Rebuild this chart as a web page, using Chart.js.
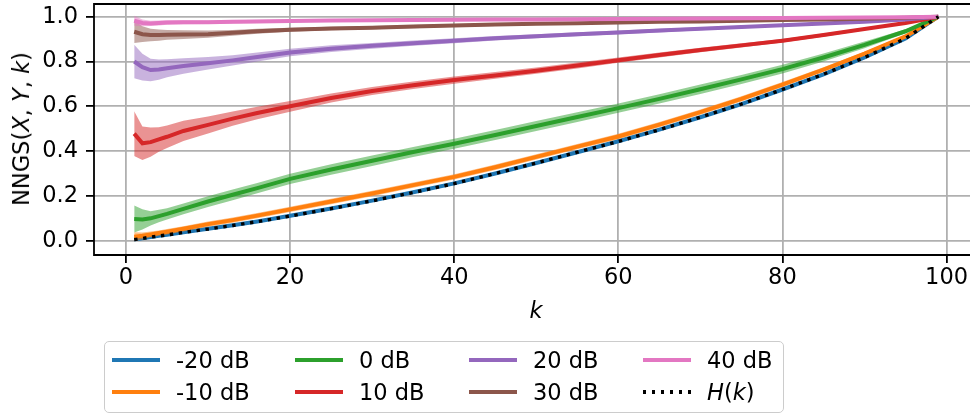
<!DOCTYPE html>
<html>
<head>
<meta charset="utf-8">
<script src="https://cdn.jsdelivr.net/npm/chart.js@4.4.1/dist/chart.umd.min.js"></script>
<style>
html,body{margin:0;padding:0;background:#fff;}
#wrap{position:relative;width:970px;height:415px;overflow:hidden;font-family:"DejaVu Sans",sans-serif;color:#000;}
#c{position:absolute;left:0;top:0;}
#xlab{position:absolute;left:536px;top:310px;transform:translate(-50%,-50%);font-size:22.5px;font-style:italic;white-space:nowrap;}
#ylab{position:absolute;left:21px;top:129px;transform:translate(-50%,-50%) rotate(-90deg);font-size:22.5px;white-space:nowrap;}
#legend{position:absolute;left:104px;top:341px;width:678px;height:70px;border:1.8px solid #cccccc;border-radius:5px;background:rgba(255,255,255,0.8);}
.item{position:absolute;height:30px;}
.handle{position:absolute;left:0;width:48px;top:13px;height:4px;}
.ltxt{position:absolute;left:64px;top:0;line-height:30px;font-size:22.5px;white-space:nowrap;}
</style>
</head>
<body>
<div id="wrap">
  <canvas id="c" width="970" height="415"></canvas>
  <div id="xlab">k</div>
  <div id="ylab">NNGS(<i>X</i>, <i>Y</i>, <i>k</i>)</div>
  <div id="legend"></div>
</div>
<script>
// ---- data ----
const K = [1,2,3,4,5,7,10,13,16,20,25,30,35,40,45,50,55,60,65,70,75,80,85,90,95,99];

const SNR_LABELS = ['-20 dB','-10 dB','0 dB','10 dB','20 dB','30 dB','40 dB'];
const SNR_COLORS = ['#1f77b4','#ff7f0e','#2ca02c','#d62728','#9467bd','#8c564b','#e377c2'];

const MEAN_M20 = [0.006,0.011,0.016,0.022,0.027,0.038,0.053,0.069,0.086,0.111,0.144,0.179,0.216,0.256,0.300,0.347,0.395,0.444,0.496,0.551,0.610,0.675,0.743,0.818,0.903,1.0];
const MEAN_M10 = [0.018,0.022,0.028,0.034,0.040,0.053,0.074,0.092,0.112,0.140,0.175,0.211,0.248,0.285,0.328,0.374,0.420,0.465,0.518,0.574,0.633,0.697,0.764,0.835,0.912,1.0];
const MEAN_0   = [0.097,0.095,0.100,0.110,0.120,0.142,0.175,0.205,0.235,0.276,0.318,0.357,0.396,0.433,0.472,0.512,0.552,0.592,0.633,0.676,0.720,0.766,0.818,0.874,0.935,1.0];
const MEAN_10  = [0.478,0.435,0.440,0.452,0.464,0.490,0.517,0.545,0.570,0.600,0.637,0.668,0.694,0.717,0.738,0.759,0.782,0.806,0.829,0.851,0.872,0.893,0.918,0.945,0.972,1.0];
const MEAN_20  = [0.800,0.775,0.762,0.764,0.770,0.780,0.792,0.805,0.820,0.840,0.857,0.870,0.882,0.893,0.904,0.913,0.922,0.930,0.938,0.946,0.954,0.962,0.970,0.978,0.988,1.0];
const MEAN_30  = [0.933,0.922,0.918,0.918,0.919,0.920,0.922,0.928,0.935,0.942,0.947,0.951,0.956,0.961,0.965,0.968,0.971,0.974,0.977,0.979,0.982,0.985,0.988,0.991,0.995,1.0];
const MEAN_40  = [0.982,0.972,0.970,0.972,0.974,0.975,0.975,0.977,0.979,0.981,0.983,0.984,0.985,0.986,0.987,0.988,0.989,0.990,0.991,0.992,0.993,0.994,0.995,0.996,0.998,1.0];

const SD_M20 = [0.010,0.008,0.007,0.006,0.006,0.006,0.006,0.006,0.006,0.006,0.006,0.006,0.006,0.006,0.006,0.006,0.006,0.006,0.006,0.006,0.006,0.006,0.005,0.004,0.003,0];
const SD_M10 = [0.020,0.015,0.013,0.012,0.012,0.012,0.012,0.012,0.012,0.012,0.012,0.012,0.012,0.012,0.012,0.012,0.012,0.012,0.012,0.012,0.012,0.011,0.010,0.009,0.006,0];
const SD_0   = [0.060,0.045,0.032,0.028,0.025,0.024,0.024,0.024,0.023,0.023,0.023,0.023,0.022,0.022,0.022,0.022,0.022,0.021,0.021,0.021,0.020,0.020,0.018,0.015,0.009,0];
const SD_10  = [0.100,0.075,0.065,0.055,0.050,0.045,0.038,0.032,0.028,0.024,0.020,0.018,0.017,0.016,0.015,0.014,0.013,0.012,0.011,0.010,0.009,0.008,0.007,0.006,0.004,0];
const SD_20  = [0.075,0.060,0.050,0.045,0.040,0.035,0.028,0.023,0.020,0.017,0.015,0.013,0.012,0.011,0.010,0.009,0.009,0.008,0.008,0.007,0.006,0.005,0.005,0.004,0.002,0];
const SD_30  = [0.050,0.035,0.028,0.025,0.022,0.020,0.016,0.013,0.011,0.009,0.008,0.007,0.007,0.006,0.006,0.005,0.005,0.004,0.004,0.004,0.003,0.003,0.003,0.002,0.001,0];
const SD_40  = [0.022,0.015,0.012,0.011,0.010,0.009,0.008,0.007,0.007,0.006,0.006,0.006,0.005,0.005,0.005,0.005,0.004,0.004,0.004,0.004,0.003,0.003,0.003,0.002,0.001,0];

const H_K = [0.005,0.010,0.016,0.021,0.026,0.037,0.052,0.068,0.085,0.110,0.143,0.178,0.215,0.255,0.300,0.347,0.395,0.443,0.495,0.551,0.610,0.675,0.743,0.818,0.903,1.0];

const X_TICKS = [0,20,40,60,80,100];
const Y_TICKS = [0.0,0.2,0.4,0.6,0.8,1.0];

// ---- build datasets ----
const MEANS = [MEAN_M20,MEAN_M10,MEAN_0,MEAN_10,MEAN_20,MEAN_30,MEAN_40];
const SDS = [SD_M20,SD_M10,SD_0,SD_10,SD_20,SD_30,SD_40];

function rgba(hex,a){
  const n=parseInt(hex.slice(1),16);
  return `rgba(${(n>>16)&255},${(n>>8)&255},${n&255},${a})`;
}
const datasets=[];
let drawIdx=0;
MEANS.forEach((m,i)=>{
  const sd=SDS[i], col=SNR_COLORS[i];
  datasets.push({label:SNR_LABELS[i]+' hi',data:K.map((k,j)=>({x:k,y:m[j]+sd[j]})),borderWidth:0,pointRadius:0,
    backgroundColor:rgba(col,0.5),fill:'+1',order:1000-(drawIdx++)});
  datasets.push({label:SNR_LABELS[i]+' lo',data:K.map((k,j)=>({x:k,y:m[j]-sd[j]})),borderWidth:0,pointRadius:0,
    fill:false,order:1000-(drawIdx++)});
  datasets.push({label:SNR_LABELS[i],data:K.map((k,j)=>({x:k,y:m[j]})),borderColor:col,borderWidth:4,pointRadius:0,
    fill:false,order:1000-(drawIdx++)});
});
datasets.push({label:'H(k)',data:K.map((k,j)=>({x:k,y:H_K[j]})),borderColor:'#000',borderWidth:3.4,borderDash:[3.4,5.6],
  borderCapStyle:'butt',pointRadius:0,fill:false,order:1000-(drawIdx++)});

const frame={
  id:'frame',
  afterDatasetsDraw(chart){
    const {ctx,chartArea:a}=chart;
    ctx.save();
    ctx.strokeStyle='#000';ctx.lineWidth=1.8;ctx.lineCap='square';
    ctx.beginPath();
    ctx.moveTo(a.right+2,a.top);ctx.lineTo(a.left,a.top);ctx.lineTo(a.left,a.bottom);ctx.lineTo(a.right+2,a.bottom);
    ctx.stroke();
    ctx.restore();
  }
};

const FONT={family:'"DejaVu Sans", sans-serif',size:22.5};
new Chart(document.getElementById('c'),{
  type:'line',
  data:{datasets},
  options:{
    responsive:false,animation:false,devicePixelRatio:1,events:[],
    layout:{padding:{top:4,right:0,left:0,bottom:0}},
    plugins:{legend:{display:false},tooltip:{enabled:false}},
    elements:{line:{tension:0}},
    scales:{
      x:{type:'linear',min:-3.9,max:102.86,
        afterFit(s){s.height=160;s.paddingLeft=0;s.paddingRight=0;},
        afterBuildTicks(s){s.ticks=X_TICKS.map(v=>({value:v}));},
        grid:{color:'#b0b0b0',lineWidth:1.8,tickColor:'#000',tickLength:8,tickWidth:1.8,drawTicks:true},
        border:{display:false},
        ticks:{font:FONT,color:'#000',padding:2,maxRotation:0,autoSkip:false,callback:v=>String(v)}
      },
      y:{type:'linear',min:-0.0638,max:1.0567,
        afterFit(s){s.width=94;s.paddingTop=0;s.paddingBottom=0;},
        afterBuildTicks(s){s.ticks=Y_TICKS.map(v=>({value:v}));},
        grid:{color:'#b0b0b0',lineWidth:1.8,tickColor:'#000',tickLength:8,tickWidth:1.8,drawTicks:true},
        border:{display:false},
        ticks:{font:FONT,color:'#000',padding:8,autoSkip:false,callback:v=>Number(v).toFixed(1)}
      }
    }
  },
  plugins:[frame]
});

// ---- HTML legend ----
const LEG_COL_X=[7,190,364,538];
const LEG_ROW_Y=[3,35];
const legend=document.getElementById('legend');
const entries=SNR_LABELS.map((l,i)=>({label:l,color:SNR_COLORS[i],dotted:false}));
entries.push({label:'<i>H</i>(<i>k</i>)',color:'#000',dotted:true});
entries.forEach((e,i)=>{
  const col=Math.floor(i/2), row=i%2;
  const it=document.createElement('div');
  it.className='item';
  it.style.left=LEG_COL_X[col]+'px';
  it.style.top=LEG_ROW_Y[row]+'px';
  const h=document.createElement('div');
  h.className='handle';
  if(e.dotted){
    h.style.height='3.4px';h.style.top='13.3px';
    h.style.background='repeating-linear-gradient(to right,#000 0 3.4px,transparent 3.4px 9px)';
  }else{
    h.style.background=e.color;
  }
  const t=document.createElement('div');
  t.className='ltxt';
  t.innerHTML=e.label;
  it.appendChild(h);it.appendChild(t);
  legend.appendChild(it);
});
</script>
</body>
</html>
